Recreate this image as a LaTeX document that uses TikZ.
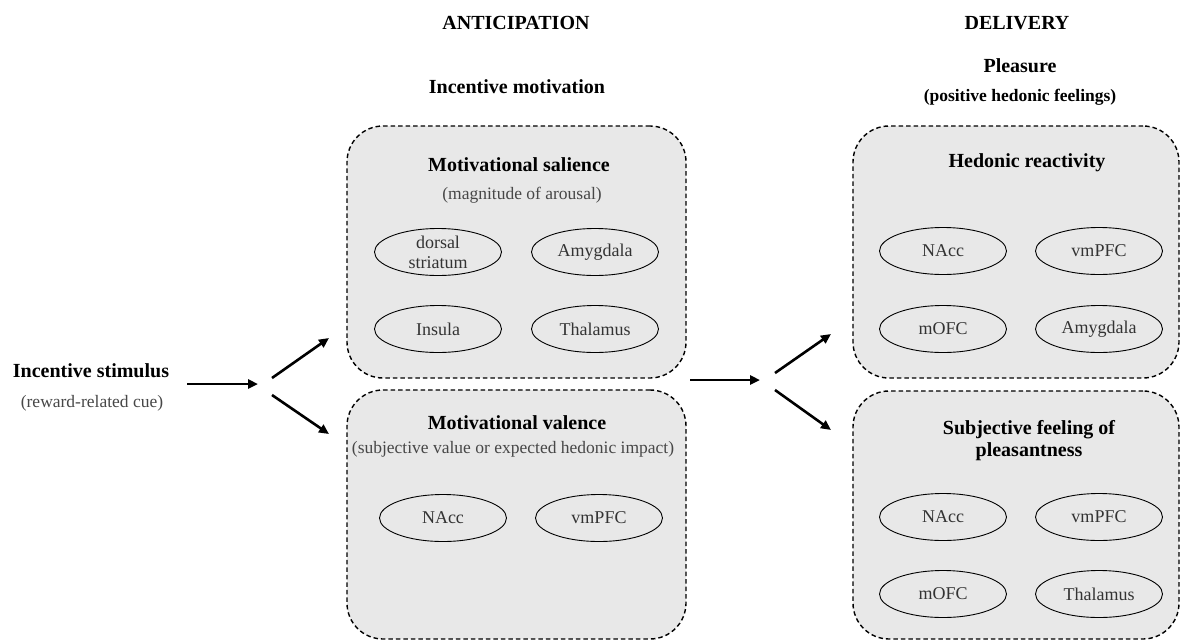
\documentclass[tikz,border=0pt]{standalone}
\usepackage{fontspec}
\setmainfont{Liberation Serif}
\usetikzlibrary{arrows.meta,shapes.geometric}
\tikzset{
  grp/.style={draw=black, fill=black!9, line width=1.4pt, dash pattern=on 4.5pt off 3pt,
    rounded corners=36pt, rectangle, inner sep=0pt},
  region/.style={draw=black, ellipse, line width=0.9pt, minimum width=127pt, minimum height=47pt,
    inner sep=0pt, align=center, text=black!80, font=\fontsize{18}{18}\selectfont},
  hd/.style={font=\fontsize{20}{24}\bfseries\selectfont, align=center, inner sep=0pt},
  sub/.style={font=\fontsize{17.5}{21}\selectfont, text=black!72, align=center, inner sep=0pt},
  arr/.style={line width=2.6pt, -{Triangle[length=10pt,width=9pt]}},
}
\begin{document}
\begin{tikzpicture}[x=1pt,y=-1pt]
\useasboundingbox (0,0) rectangle (1181,641);

% headers
\node[hd] (antic) at (516,23) {ANTICIPATION};
\node[hd] (deliv) at (1017,23) {DELIVERY};
\node[hd] (incmot) at (517,87) {Incentive motivation};
\node[hd] (pleas) at (1020,66) {Pleasure};
\node[hd, font=\fontsize{17.5}{21}\bfseries\selectfont] (poshed) at (1020,97) {(positive hedonic feelings)};

% stimulus
\node[hd] (stim) at (91,371) {Incentive stimulus};
\node[sub] (stimsub) at (92,403) {(reward-related cue)};

% boxes
\node[grp, minimum width=339pt, minimum height=252pt] (sal) at (516.5,252) {};
\node[grp, minimum width=339pt, minimum height=249pt] (val) at (516.5,514.5) {};
\node[grp, minimum width=326pt, minimum height=252pt] (hed) at (1016,252) {};
\node[grp, minimum width=326pt, minimum height=248pt] (subj) at (1016,515) {};

% box titles
\node[hd] (saltitle) at (519,165) {Motivational salience};
\node[sub] (salsub) at (522,195) {(magnitude of arousal)};
\node[hd] (valtitle) at (517,423) {Motivational valence};
\node[sub] (valsub) at (513,449) {(subjective value or expected hedonic impact)};
\node[hd] (hedtitle) at (1027,163) {Hedonic reactivity};
\node[hd, font=\fontsize{20}{22}\bfseries\selectfont] (subjtitle) at (1029,441) {Subjective feeling of\\pleasantness};

% ellipses: salience
\node[region, font=\fontsize{18}{20}\selectfont] (ds) at (438,252) {dorsal\\striatum};
\node[region] (amy1) at (595,252) {Amygdala};
\node[region] (ins) at (438,329) {Insula};
\node[region] (thal1) at (595,329) {Thalamus};
% valence
\node[region] (nacc1) at (443,518) {NAcc};
\node[region] (vmpfc1) at (599,518) {vmPFC};
% hedonic
\node[region] (nacc2) at (943,251) {NAcc};
\node[region] (vmpfc2) at (1099,251) {vmPFC};
\node[region] (mofc2) at (943,329) {mOFC};
\node[region] (amy2) at (1099,329) {Amygdala};
% subjective
\node[region] (nacc3) at (943,517) {NAcc};
\node[region] (vmpfc3) at (1099,517) {vmPFC};
\node[region] (mofc3) at (943,594) {mOFC};
\node[region] (thal3) at (1099,594) {Thalamus};

% arrow coordinates
\coordinate (a1s) at (187,384);
\coordinate (a1e) at (258,384);
\coordinate (f1) at (272,378);
\coordinate (f1u) at (329,338);
\coordinate (f2) at (272,395);
\coordinate (f2d) at (329,434);
\coordinate (a2s) at (690,380);
\coordinate (a2e) at (760,380);
\coordinate (g1) at (775,373);
\coordinate (g1u) at (831,334);
\coordinate (g2) at (775,390);
\coordinate (g2d) at (831,430);

\draw[arr] (a1s) -- (a1e);
\draw[arr] (f1) -- (f1u);
\draw[arr] (f2) -- (f2d);
\draw[arr] (a2s) -- (a2e);
\draw[arr] (g1) -- (g1u);
\draw[arr] (g2) -- (g2d);
\end{tikzpicture}
\end{document}
